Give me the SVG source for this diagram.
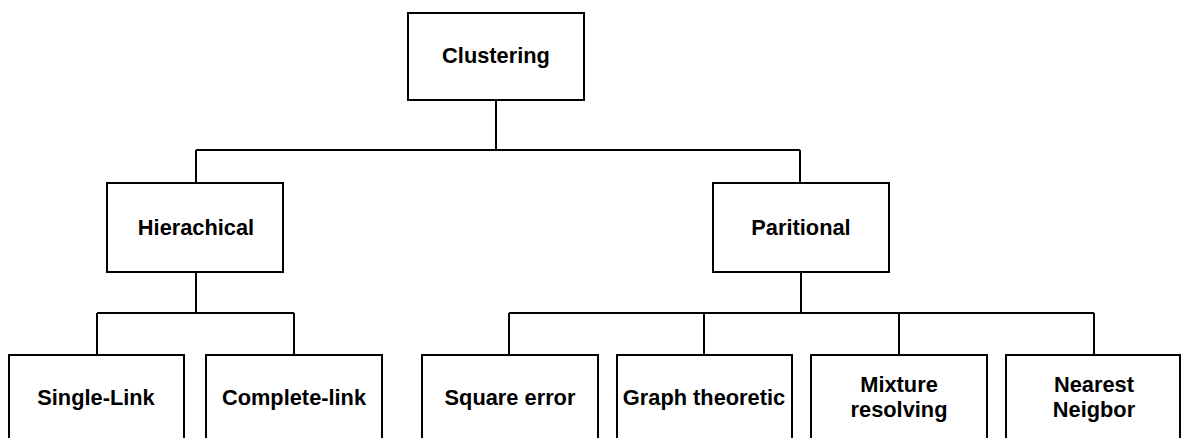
<svg xmlns="http://www.w3.org/2000/svg" width="1181" height="438" viewBox="0 0 1181 438">
<style>
.box{fill:#fff;stroke:#000;stroke-width:2}
.lbl{font-family:"Liberation Sans",Arial,sans-serif;font-weight:bold;font-size:21.8px;text-anchor:middle;fill:#000}
.con{fill:none;stroke:#000;stroke-width:2}
</style>
<rect width="1181" height="438" fill="#fff"/>
<g id="connectors">
<path class="con" d="M496,100V150M196,150H800M196,150V183M800,150V183"/>
<path class="con" d="M196,272V313M97,313H294M97,313V355M294,313V355"/>
<path class="con" d="M801,272V313M509,313H1094M509,313V355M704,313V355M899,313V355M1094,313V355"/>
</g>
<g id="clustering"><rect class="box" x="408" y="13" width="176" height="87"/><text class="lbl" x="496" y="63">Clustering</text></g>
<g id="hierachical"><rect class="box" x="107" y="183" width="176" height="89"/><text class="lbl" x="196" y="235">Hierachical</text></g>
<g id="paritional"><rect class="box" x="713" y="183" width="176" height="89"/><text class="lbl" x="801" y="235">Paritional</text></g>
<g id="single-link"><rect class="box" x="9" y="355" width="175" height="100"/><text class="lbl" x="96" y="405">Single-Link</text></g>
<g id="complete-link"><rect class="box" x="206" y="355" width="176" height="100"/><text class="lbl" x="294" y="405">Complete-link</text></g>
<g id="square-error"><rect class="box" x="422" y="355" width="176" height="100"/><text class="lbl" x="510" y="405">Square error</text></g>
<g id="graph-theoretic"><rect class="box" x="617" y="355" width="175" height="100"/><text class="lbl" x="704" y="405">Graph theoretic</text></g>
<g id="mixture-resolving"><rect class="box" x="811" y="355" width="176" height="100"/><text class="lbl" x="899" y="392">Mixture</text><text class="lbl" x="899" y="417">resolving</text></g>
<g id="nearest-neigbor"><rect class="box" x="1006" y="355" width="174" height="100"/><text class="lbl" x="1094" y="392">Nearest</text><text class="lbl" x="1094" y="417">Neigbor</text></g>
</svg>
